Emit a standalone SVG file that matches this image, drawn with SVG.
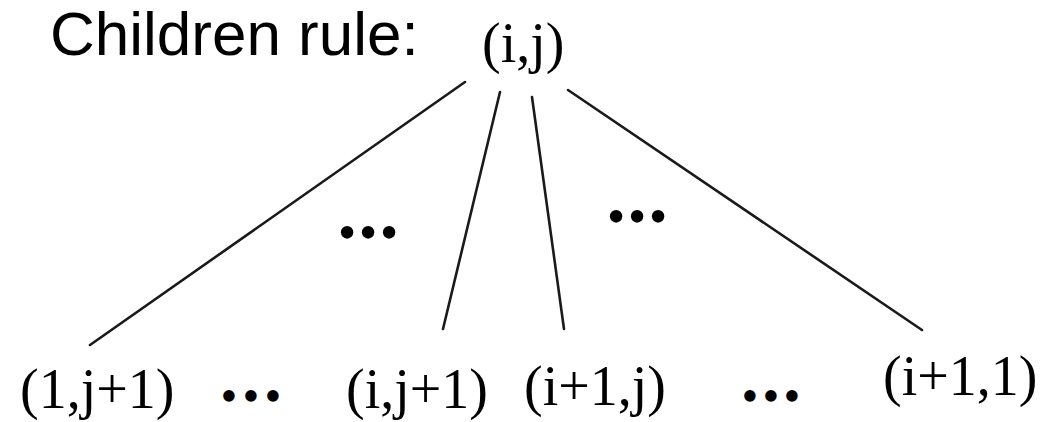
<svg xmlns="http://www.w3.org/2000/svg" width="1061" height="422" viewBox="0 0 1061 422">
<style>
.title{font-family:"Liberation Sans",Arial,sans-serif;font-size:62px;fill:#000}
.lbl{font-family:"Liberation Serif","Times New Roman",serif;font-size:56px;fill:#000}
.dots{font-family:"Liberation Serif","Times New Roman",serif;font-size:52px;fill:#000;text-anchor:middle;dominant-baseline:central}
.dots.low{font-size:48px}
.edge{stroke:#1a1a1a;stroke-width:2.6;fill:none;stroke-linecap:round}
</style>
<rect width="1061" height="422" fill="#fff"/>
<text class="title" x="50" y="55">Children rule:</text>
<g id="connectors">
<line class="edge" x1="465" y1="82" x2="90" y2="345"/>
<line class="edge" x1="500" y1="92" x2="443" y2="329"/>
<line class="edge" x1="532" y1="97" x2="564" y2="329"/>
<line class="edge" x1="568" y1="90" x2="922" y2="330"/>
</g>
<g id="node-root"><text class="lbl" x="482" y="62">(i,j)</text></g>
<g id="node-1j1"><text class="lbl" x="20" y="408">(1,j+1)</text></g>
<g id="node-ij1"><text class="lbl" x="346" y="408">(i,j+1)</text></g>
<g id="node-i1j"><text class="lbl" x="524" y="405">(i+1,j)</text></g>
<g id="node-i11"><text class="lbl" x="883" y="395">(i+1,1)</text></g>
<g id="ellipses">
<text class="dots" x="347 368 389" y="232">•••</text>
<text class="dots" x="616 637 658" y="216">•••</text>
<text class="dots low" x="229 251 273" y="395">•••</text>
<text class="dots low" x="750 771 792" y="395">•••</text>
</g>
</svg>
